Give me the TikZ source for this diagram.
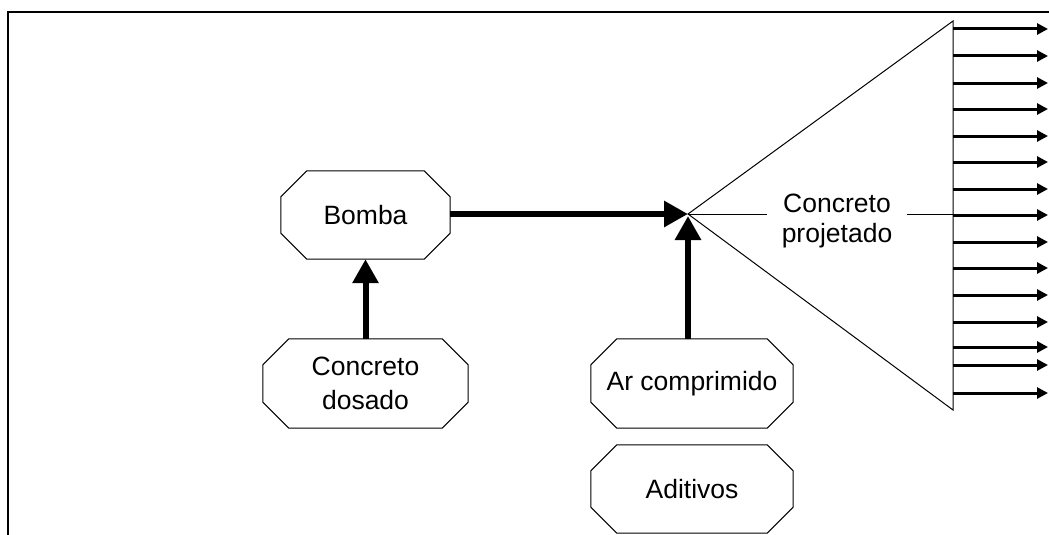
\documentclass[tikz,border=0pt]{standalone}
\usepackage{fontspec}
\setmainfont{Liberation Sans}
\usetikzlibrary{arrows.meta}

\begin{document}
\begin{tikzpicture}[x=1pt, y=-1pt]
        \tikzset{box/.style={rectangle, align=center, inner sep=0pt, font=\fontsize{26.5}{34}\selectfont}}
        \tikzset{feed/.style={-{Triangle[length=24pt,width=25pt]}, line width=6pt}}
        \tikzset{jet/.style={-{Triangle[length=11pt,width=11pt]}, line width=3pt}}
        \useasboundingbox (0,0) rectangle (1049,535);
        % frame
        \draw[line width=2pt] (8,535) -- (8,12) -- (1049,12);
        % boxes
        \node[box, minimum width=169pt, minimum height=88pt] (bomba) at (365.5,215) {Bomba};
        \node[box, minimum width=205pt, minimum height=89pt] (dosado) at (365.5,383.5) {Concreto\\dosado};
        \node[box, minimum width=202pt, minimum height=89pt] (ar) at (692,383.5) {Ar comprimido};
        \node[box, minimum width=202pt, minimum height=88pt] (aditivos) at (692,489) {Aditivos};
        % cut corners
        \foreach \n in {bomba,dosado,ar,aditivos}
          \draw[line width=1pt] ([xshift=26pt]\n.north west) -- ([xshift=-26pt]\n.north east)
            -- ([yshift=-26pt]\n.north east) -- ([yshift=26pt]\n.south east)
            -- ([xshift=-26pt]\n.south east) -- ([xshift=26pt]\n.south west)
            -- ([yshift=26pt]\n.south west) -- ([yshift=-26pt]\n.north west) -- cycle;
        % nozzle
        \coordinate (apex) at (688,214);
        \coordinate (tritop) at (953,21);
        \coordinate (tribot) at (953,410);
        \draw[line width=1pt] (apex) -- (tritop) -- (tribot) -- cycle;
        \node[align=center, inner xsep=15pt, font=\fontsize{26.5}{30}\selectfont] (jato) at (837,221) {Concreto\\projetado};
        \draw[line width=1pt] (apex) -- (apex -| jato.west);
        \draw[line width=1pt] (apex -| jato.east) -- (apex -| tritop);
        % feeds
        \draw[feed] (bomba.east |- apex) -- (apex);
        \draw[feed] (dosado.north) -- (bomba.south);
        \draw[feed] (apex |- ar.north) -- ([yshift=-2pt]apex);
        % jets
        \foreach \y in {29,56,83,109,136,162,189,215,242,268,295,322,347,365,393}
          \draw[jet] (953,\y) -- (1048,\y);
\end{tikzpicture}
\end{document}
